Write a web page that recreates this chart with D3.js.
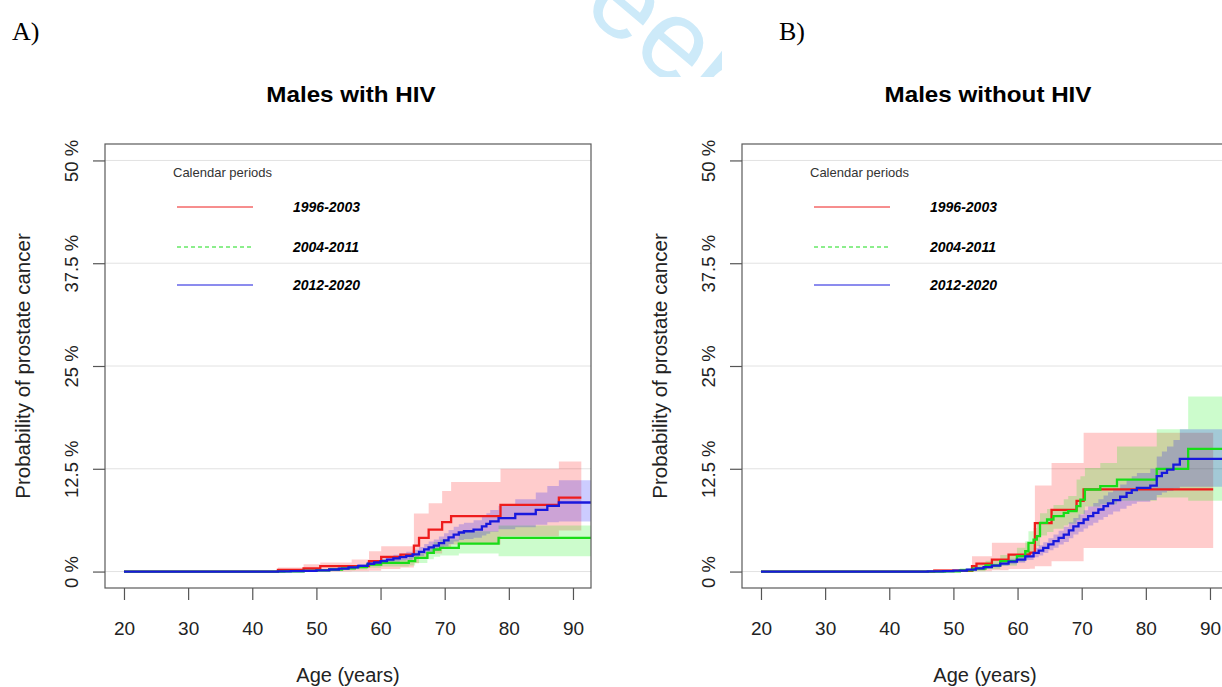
<!DOCTYPE html>
<html>
<head>
<meta charset="utf-8">
<script src="https://cdn.jsdelivr.net/npm/d3@7"></script>
<style>
  body { margin: 0; background: #fff; }
  svg { display: block; font-family: "Liberation Sans", Arial, sans-serif; }
</style>
</head>
<body>
<svg id="chart" width="1222" height="687"></svg>
<script>
// tick labels and legend
let ageTicks = [20, 30, 40, 50, 60, 70, 80, 90];
let pctTicks = [0, 12.5, 25, 37.5, 50];
let pctLabels = ["0 %", "12.5 %", "25 %", "37.5 %", "50 %"];
let periods = ["1996-2003", "2004-2011", "2012-2020"];
let colors = ["#ee1c1c", "#18dd18", "#1818dd"];
let bandColors = ["#ff0000", "#00ee00", "#0000ff"];

// Panel A, males with HIV (values in %)
let aRedAge = [20, 44, 48, 50.6, 55.5, 58.2, 60.1, 63.1, 65.2, 66.0, 67.5, 69.6, 71.0, 78.7, 87.8, 91.3];
let aRedEst = [0, 0.2, 0.37, 0.65, 0.65, 1.26, 1.78, 2.07, 3.16, 4.1, 5.1, 6.0, 6.75, 8.1, 9.0, 9.0];
let aRedHi  = [0, 0.5, 0.9, 1.1, 1.46, 2.47, 3.08, 3.08, 7.06, 7.06, 8.3, 9.8, 10.9, 12.5, 13.4, 13.4];
let aRedLo  = [0, 0, 0, 0.02, 0.05, 0.1, 0.3, 0.5, 1.0, 1.6, 2.2, 2.8, 3.3, 4.3, 5.0, 5.0];

let aGreenAge = [20, 45, 48, 50, 52, 54, 56, 57.9, 60.1, 64.4, 65.4, 67.3, 68.3, 69.3, 72.2, 78.4, 94];
let aGreenEst = [0, 0.03, 0.08, 0.15, 0.25, 0.38, 0.55, 0.85, 1.05, 1.26, 1.66, 2.27, 2.68, 2.88, 3.4, 4.1, 4.1];
let aGreenHi  = [0, 0.08, 0.18, 0.3, 0.45, 0.6, 0.8, 1.2, 1.5, 1.8, 2.3, 3.1, 3.6, 3.9, 4.9, 5.6, 5.6];
let aGreenLo  = [0, 0, 0.01, 0.04, 0.08, 0.15, 0.25, 0.45, 0.6, 0.75, 1.05, 1.5, 1.8, 1.95, 2.2, 1.85, 1.85];

let aBlueAge = [20, 44, 46, 48, 50, 52, 53.5, 55, 56.5, 58, 59, 60, 61, 62, 63, 64, 65, 66, 66.8, 67.5, 68.3, 69.1, 69.9, 70.6, 71.4, 72.2, 73.0, 74.5, 75.8, 76.5, 77.1, 78.4, 81.0, 84.2, 86.0, 87.8, 94];
let aBlueEst = [0, 0.02, 0.05, 0.08, 0.15, 0.25, 0.35, 0.5, 0.7, 0.95, 1.1, 1.26, 1.45, 1.6, 1.75, 1.9, 2.1, 2.4, 2.7, 2.95, 3.16, 3.45, 3.8, 4.15, 4.5, 4.75, 4.9, 5.1, 5.5, 5.8, 6.1, 6.5, 7.0, 7.5, 8.0, 8.4, 8.4];
let aBlueHi  = [0, 0.06, 0.1, 0.15, 0.25, 0.38, 0.5, 0.68, 0.92, 1.25, 1.42, 1.6, 1.85, 2.05, 2.2, 2.4, 2.65, 3.0, 3.35, 3.65, 3.9, 4.25, 4.65, 5.05, 5.45, 5.75, 5.95, 6.25, 6.75, 7.1, 7.5, 8.0, 8.8, 9.6, 10.4, 11.1, 11.1];
let aBlueLo  = [0, 0, 0.01, 0.03, 0.07, 0.14, 0.22, 0.34, 0.5, 0.7, 0.83, 0.96, 1.1, 1.2, 1.35, 1.45, 1.62, 1.88, 2.12, 2.32, 2.5, 2.75, 3.05, 3.35, 3.65, 3.85, 3.95, 4.1, 4.4, 4.6, 4.85, 5.15, 5.4, 5.7, 6.0, 6.1, 6.1];

// Panel B, males without HIV
let bRedAge = [20, 47, 52.9, 53.6, 56.0, 58.6, 61.9, 62.7, 65.3, 69.2, 70.3, 90.5];
let bRedEst = [0, 0.1, 0.65, 0.97, 1.46, 2.07, 2.3, 5.9, 7.5, 8.6, 10.0, 10.0];
let bRedHi  = [0, 0.3, 1.87, 1.87, 3.49, 3.49, 3.49, 10.46, 13.2, 13.2, 16.87, 16.87];
let bRedLo  = [0, 0, 0, 0.05, 0.15, 0.3, 0.35, 0.65, 1.26, 1.26, 2.88, 2.88];

let bGreenAge = [20, 48.7, 51, 53, 55, 57.3, 59.9, 61.2, 61.7, 62.5, 63.0, 63.5, 64.6, 65.6, 67.2, 67.9, 69.2, 69.8, 70.5, 72.9, 75.5, 81.7, 86.6, 95];
let bGreenEst = [0, 0.02, 0.15, 0.35, 0.75, 1.26, 1.87, 2.47, 3.49, 3.89, 4.3, 5.92, 6.33, 6.73, 7.14, 7.34, 7.95, 8.76, 9.98, 10.38, 11.19, 12.49, 14.92, 14.92];
let bGreenHi  = [0, 0.1, 0.4, 0.8, 1.3, 2.0, 2.9, 3.7, 4.9, 5.3, 5.8, 7.1, 7.6, 8.1, 8.8, 9.2, 11.2, 11.6, 12.6, 13.2, 15.2, 17.3, 21.3, 21.3];
let bGreenLo  = [0, 0, 0, 0.05, 0.3, 0.7, 1.2, 1.6, 2.4, 2.8, 3.1, 4.4, 4.8, 5.2, 5.6, 5.8, 6.3, 7.0, 7.9, 8.2, 8.6, 9.0, 8.6, 8.6];

let bBlueAge = [20, 46, 48.4, 50, 52.1, 53.5, 54.7, 56, 57.3, 58.6, 59.9, 61.2, 62.5, 63.3, 64.0, 64.8, 65.6, 66.4, 67.2, 68.0, 68.7, 69.5, 70.3, 71.0, 71.8, 72.6, 73.4, 74.1, 74.9, 76.0, 77.0, 77.8, 78.6, 80.7, 81.7, 82.5, 83.3, 84.3, 85.3, 95];
let bBlueEst = [0, 0.01, 0.05, 0.12, 0.24, 0.38, 0.53, 0.73, 0.97, 1.2, 1.46, 1.85, 2.27, 2.55, 2.88, 3.3, 3.69, 4.1, 4.5, 5.0, 5.5, 5.9, 6.33, 6.75, 7.14, 7.55, 7.95, 8.3, 8.68, 9.1, 9.57, 9.9, 10.18, 10.46, 11.6, 12.0, 12.4, 13.0, 13.7, 13.7];
let bBlueHi  = [0, 0.02, 0.09, 0.2, 0.35, 0.52, 0.7, 0.95, 1.25, 1.55, 1.85, 2.3, 2.85, 3.2, 3.55, 4.05, 4.5, 4.95, 5.45, 6.0, 6.5, 6.95, 7.45, 7.9, 8.35, 8.8, 9.25, 9.65, 10.1, 10.6, 11.2, 11.6, 12.0, 12.5, 14.0, 14.6, 15.2, 16.0, 17.3, 17.3];
let bBlueLo  = [0, 0, 0.02, 0.06, 0.14, 0.24, 0.36, 0.52, 0.7, 0.88, 1.08, 1.4, 1.75, 1.95, 2.25, 2.6, 2.9, 3.3, 3.6, 4.05, 4.5, 4.85, 5.25, 5.6, 5.95, 6.3, 6.65, 6.95, 7.3, 7.65, 8.0, 8.25, 8.5, 8.7, 9.3, 9.6, 9.8, 10.1, 10.3, 10.3];

function series(age, est, lo, hi) {
  return age.map(function(a, i) { return {age: a, est: est[i], lo: lo[i], hi: hi[i]}; });
}

let panels = [
  {tag: "A)", tagX: 12, title: "Males with HIV", left: 105, id: "a",
   curves: [series(aRedAge, aRedEst, aRedLo, aRedHi),
            series(aGreenAge, aGreenEst, aGreenLo, aGreenHi),
            series(aBlueAge, aBlueEst, aBlueLo, aBlueHi)]},
  {tag: "B)", tagX: 779, title: "Males without HIV", left: 742, id: "b",
   curves: [series(bRedAge, bRedEst, bRedLo, bRedHi),
            series(bGreenAge, bGreenEst, bGreenLo, bGreenHi),
            series(bBlueAge, bBlueEst, bBlueLo, bBlueHi)]}
];

let svg = d3.select("#chart");
let defs = svg.append("defs");

// watermark peeking out at the top
defs.append("clipPath").attr("id", "wmclip")
  .append("rect").attr("x", 560).attr("y", 0).attr("width", 162).attr("height", 77);
svg.append("g").attr("clip-path", "url(#wmclip)")
  .append("text")
  .attr("transform", "translate(521,-40) rotate(40)")
  .attr("font-size", 115)
  .attr("fill", "#cdeaf9")
  .text("Peer Review");

let plotW = 486, plotTop = 144, plotBottom = 588;

let y = d3.scaleLinear().domain([-2, 52]).range([plotBottom, plotTop]);

panels.forEach(function(p) {
  let x = d3.scaleLinear().domain([17.04, 92.81]).range([p.left, p.left + plotW]);
  let g = svg.append("g");

  svg.append("text")
    .attr("x", p.tagX).attr("y", 40)
    .attr("font-family", "'Liberation Serif', 'Times New Roman', serif")
    .attr("font-size", 26)
    .text(p.tag);

  // the figure is a little wider than tall, so the title is stretched
  g.append("text")
    .attr("transform", "translate(" + (p.left + plotW / 2 + 3) + ",102) scale(1.1,1)")
    .attr("text-anchor", "middle")
    .attr("font-weight", "bold")
    .attr("font-size", 22)
    .text(p.title);

  // grid
  g.selectAll("line.grid").data(pctTicks).enter().append("line")
    .attr("class", "grid")
    .attr("x1", p.left).attr("x2", p.left + plotW)
    .attr("y1", function(d) { return y(d); }).attr("y2", function(d) { return y(d); })
    .attr("stroke", "#e2e2e2").attr("stroke-width", 1);

  defs.append("clipPath").attr("id", "clip-" + p.id)
    .append("rect").attr("x", p.left).attr("y", plotTop).attr("width", plotW).attr("height", plotBottom - plotTop);

  let plot = g.append("g").attr("clip-path", "url(#clip-" + p.id + ")");

  let band = d3.area().curve(d3.curveStepAfter)
    .x(function(d) { return x(d.age); })
    .y0(function(d) { return y(d.lo); })
    .y1(function(d) { return y(d.hi); });
  let line = d3.line().curve(d3.curveStepAfter)
    .x(function(d) { return x(d.age); })
    .y(function(d) { return y(d.est); });

  p.curves.forEach(function(c, i) {
    plot.append("path").attr("d", band(c))
      .attr("fill", bandColors[i]).attr("fill-opacity", 0.2);
  });
  p.curves.forEach(function(c, i) {
    plot.append("path").attr("d", line(c))
      .attr("fill", "none").attr("stroke", colors[i]).attr("stroke-width", 2.3);
  });

  // box
  g.append("rect")
    .attr("x", p.left).attr("y", plotTop).attr("width", plotW).attr("height", plotBottom - plotTop)
    .attr("fill", "none").attr("stroke", "#5a5a5a").attr("stroke-width", 1.2);

  // axes
  let xAxis = d3.axisBottom(x).tickValues(ageTicks).tickSize(12).tickPadding(22).tickSizeOuter(0);
  let xg = g.append("g").attr("transform", "translate(0," + plotBottom + ")").call(xAxis);
  xg.select(".domain").remove();
  xg.selectAll("line").attr("stroke", "#555").attr("stroke-width", 1.2);
  xg.selectAll("text").attr("font-size", 19).attr("fill", "#222")
    .attr("font-family", "'Liberation Sans', Arial, sans-serif");

  let yAxis = d3.axisLeft(y).tickValues(pctTicks).tickSize(12).tickSizeOuter(0)
    .tickFormat(function(d, i) { return pctLabels[i]; });
  let yg = g.append("g").attr("transform", "translate(" + p.left + ",0)").call(yAxis);
  yg.select(".domain").remove();
  yg.selectAll("line").attr("stroke", "#555").attr("stroke-width", 1.2);
  yg.selectAll("text")
    .attr("font-size", 18.5).attr("fill", "#222")
    .attr("font-family", "'Liberation Sans', Arial, sans-serif")
    .attr("x", null).attr("dy", null)
    .attr("text-anchor", "middle")
    .attr("transform", "translate(-27,0) rotate(-90)");

  g.append("text")
    .attr("x", p.left + plotW / 2).attr("y", 682)
    .attr("text-anchor", "middle").attr("font-size", 20).attr("fill", "#222")
    .text("Age (years)");

  g.append("text")
    .attr("transform", "translate(" + (p.left - 75) + "," + ((plotTop + plotBottom) / 2) + ") rotate(-90)")
    .attr("text-anchor", "middle").attr("font-size", 20.5).attr("fill", "#222")
    .text("Probability of prostate cancer");

  // legend
  g.append("text")
    .attr("x", p.left + 68).attr("y", 176.5)
    .attr("font-size", 13).attr("fill", "#333")
    .text("Calendar periods");
  let legY = [207, 247, 285];
  periods.forEach(function(name, i) {
    g.append("line")
      .attr("x1", p.left + 72).attr("x2", p.left + 148)
      .attr("y1", legY[i]).attr("y2", legY[i])
      .attr("stroke", colors[i]).attr("stroke-width", 1)
      .attr("stroke-dasharray", i == 1 ? "4,3" : null);
    g.append("text")
      .attr("x", p.left + 188).attr("y", legY[i] + 5)
      .attr("font-size", 14).attr("font-weight", "bold").attr("font-style", "italic")
      .text(name);
  });
});
</script>
</body>
</html>
